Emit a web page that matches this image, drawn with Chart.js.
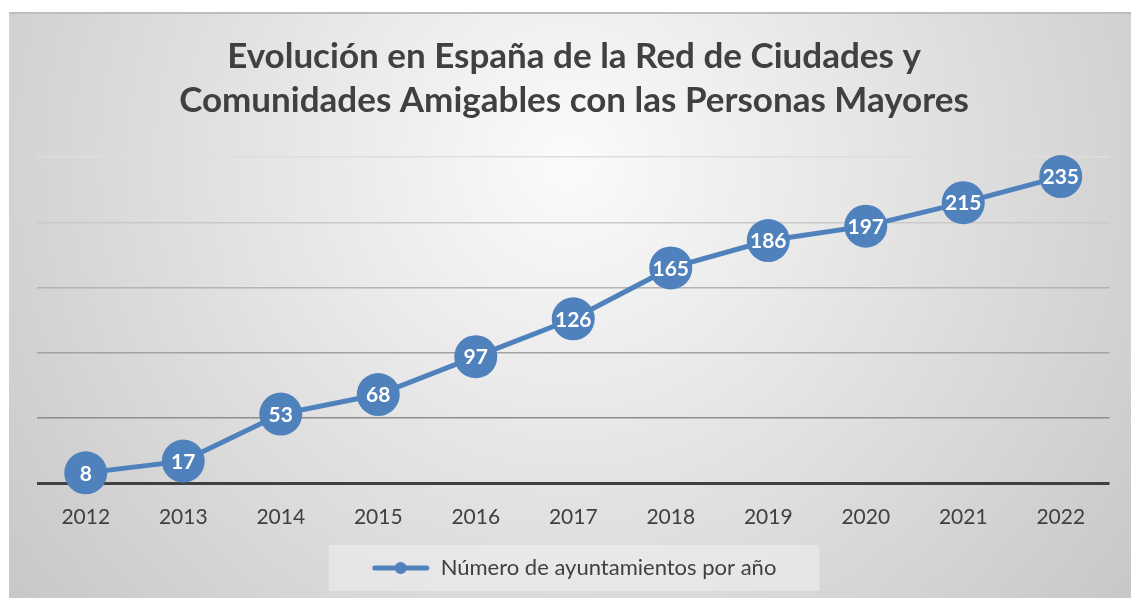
<!DOCTYPE html>
<html>
<head>
<meta charset="utf-8">
<script src="https://cdn.jsdelivr.net/npm/chart.js@4.4.1/dist/chart.umd.min.js"></script>
<style>
  html, body { margin: 0; padding: 0; background: #ffffff; }
  #wrap { position: absolute; left: 9px; top: 12px; width: 1122px; height: 586px; }
</style>
</head>
<body>
<div id="wrap"><canvas id="redChart"></canvas></div>
<script>
// Datos del gráfico
const years = ['2012', '2013', '2014', '2015', '2016', '2017', '2018', '2019', '2020', '2021', '2022'];
const ayuntamientos = [8, 17, 53, 68, 97, 126, 165, 186, 197, 215, 235];
const yTicks = [0, 50, 100, 150, 200, 250];
const titleLines = ['Evolución en España de la Red de Ciudades y', 'Comunidades Amigables con las Personas Mayores'];
const seriesName = 'Número de ayuntamientos por año';

const blue = '#4f81bd';
const textGrey = '#404040';

// gridline shade per value (lighter towards the top, like the original)
const gridShades = { 0: '#404040', 50: '#8e8e8e', 100: '#a2a2a2', 150: '#b4b4b4', 200: '#c9c9c9', 250: '#dedede' };

// legend icon: line with a dot in the middle
const legendIcon = document.createElement('canvas');
legendIcon.width = 58;
legendIcon.height = 14;
(function () {
    const c = legendIcon.getContext('2d');
    c.strokeStyle = blue;
    c.lineWidth = 5;
    c.lineCap = 'round';
    c.beginPath();
    c.moveTo(3, 7);
    c.lineTo(55, 7);
    c.stroke();
    c.fillStyle = blue;
    c.beginPath();
    c.arc(29, 7, 6, 0, Math.PI * 2);
    c.fill();
})();

// background gradient + legend box
const backdrop = {
    id: 'backdrop',
    beforeDraw(chart) {
        const { ctx, width, height } = chart;
        ctx.save();
        const g = ctx.createRadialGradient(560, 150, 0, 560, 150, 760);
        g.addColorStop(0, '#fbfbfb');
        g.addColorStop(1, '#c4c4c4');
        ctx.fillStyle = g;
        ctx.fillRect(0, 0, width, height);
        ctx.fillStyle = '#bdbdbd';
        ctx.fillRect(0, 0, width, 2);

        const boxes = chart.legend && chart.legend.legendHitBoxes;
        if (boxes && boxes.length) {
            const b = boxes[0];
            ctx.fillStyle = 'rgba(240,240,240,0.55)';
            ctx.fillRect(b.left - 43, b.top + b.height / 2 - 23, b.width + 86, 46);
        }
        ctx.restore();
    }
};

// white value labels on top of the markers
const valueLabels = {
    id: 'valueLabels',
    afterDatasetsDraw(chart) {
        const { ctx } = chart;
        const meta = chart.getDatasetMeta(0);
        ctx.save();
        ctx.font = 'bold 21px Lato';
        ctx.fillStyle = '#ffffff';
        ctx.textAlign = 'center';
        ctx.textBaseline = 'middle';
        meta.data.forEach((pt, i) => {
            ctx.fillText(String(ayuntamientos[i]), pt.x, pt.y + 1);
        });
        ctx.restore();
    }
};

const ctx = document.getElementById('redChart').getContext('2d');
new Chart(ctx, {
    type: 'line',
    data: {
        labels: years,
        datasets: [{
            label: seriesName,
            data: ayuntamientos,
            borderColor: blue,
            backgroundColor: blue,
            borderWidth: 5,
            pointRadius: 21.5,
            pointHoverRadius: 21.5,
            pointBorderWidth: 0,
            pointBackgroundColor: blue,
            tension: 0,
            clip: false
        }]
    },
    options: {
        responsive: true,
        maintainAspectRatio: false,
        animation: false,
        events: [],
        layout: {
            padding: { left: 28, right: 20, top: 0, bottom: 9 }
        },
        plugins: {
            title: {
                display: true,
                text: titleLines,
                color: textGrey,
                font: { family: 'Lato', size: 35, weight: 'bold', lineHeight: 1.257 },
                padding: { top: 23, bottom: 34 }
            },
            legend: {
                display: true,
                position: 'bottom',
                labels: {
                    usePointStyle: true,
                    pointStyle: legendIcon,
                    pointStyleWidth: 58,
                    color: textGrey,
                    font: { family: 'Lato', size: 22 },
                    padding: 13.5
                }
            },
            tooltip: { enabled: false }
        },
        scales: {
            x: {
                offset: true,
                grid: { display: false },
                border: { display: false },
                ticks: {
                    color: textGrey,
                    font: { family: 'Lato', size: 21 },
                    padding: 13.5
                }
            },
            y: {
                min: 0,
                max: 250,
                afterBuildTicks(axis) {
                    axis.ticks = yTicks.map(v => ({ value: v }));
                },
                ticks: { display: false },
                border: { display: false },
                grid: {
                    drawTicks: false,
                    color: c => gridShades[c.tick.value] || '#b0b0b0',
                    lineWidth: c => (c.tick.value === 0 ? 3 : 1.5)
                }
            }
        }
    },
    plugins: [backdrop, valueLabels]
});
</script>
</body>
</html>
